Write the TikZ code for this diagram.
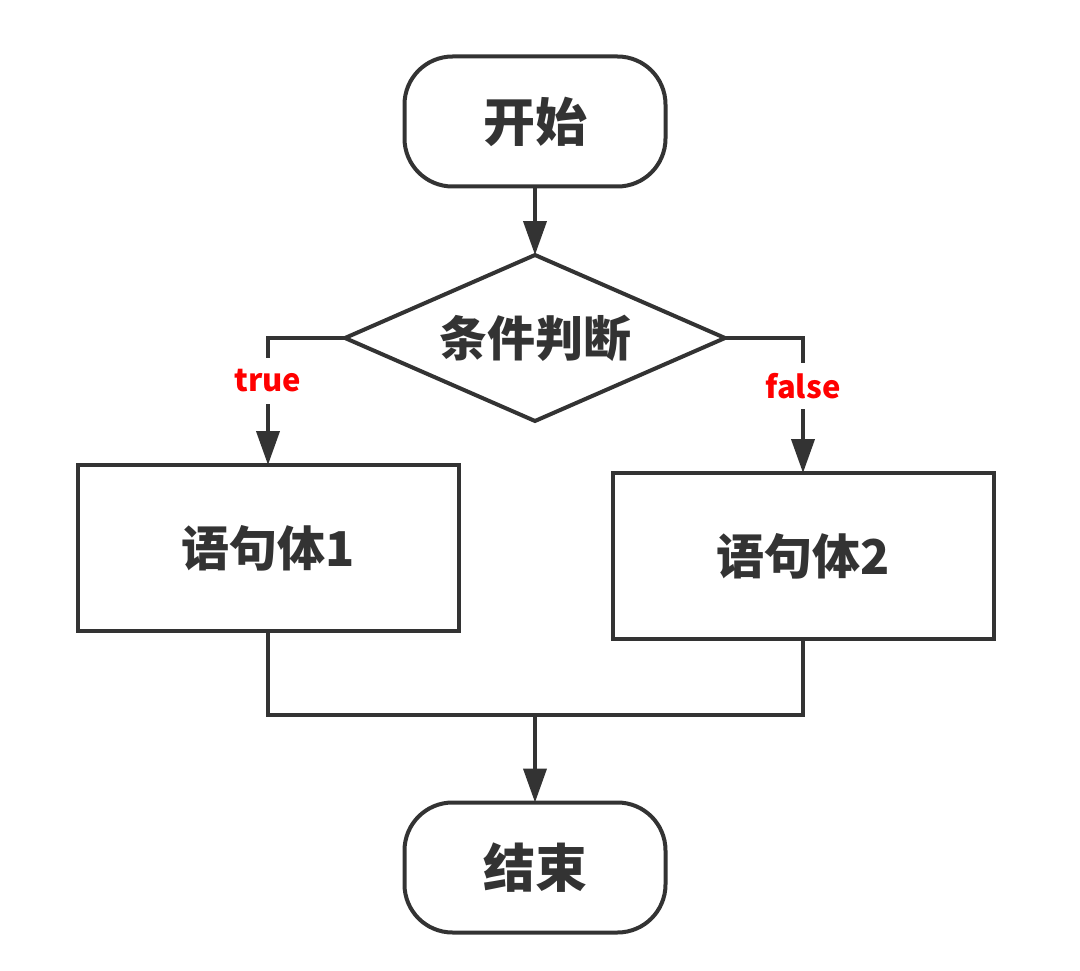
\documentclass[tikz,border=0pt]{standalone}
\usepackage{fontspec}
\usetikzlibrary{shapes.geometric,arrows.meta}
\newfontfamily\cjk{Noto Sans CJK SC}
\definecolor{ink}{HTML}{333333}
\definecolor{lab}{HTML}{FF0000}
\begin{document}
\begin{tikzpicture}[x=1pt,y=-1pt,
  line width=4pt, draw=ink,
  every node/.style={inner sep=0pt, outer sep=0pt, text=ink, font=\cjk\bfseries\fontsize{48}{56}\selectfont},
  term/.style={draw=ink, rounded corners=48pt, minimum width=261pt, minimum height=130pt, font=\cjk\bfseries\fontsize{52}{60}\selectfont},
  proc/.style={draw=ink, rectangle, minimum width=381pt, minimum height=166pt},
  dec/.style={draw=ink, diamond, aspect=2.3, minimum width=380pt, minimum height=166pt},
  lbl/.style={text=lab, minimum height=46pt, font=\cjk\bfseries\fontsize{31}{36}\selectfont},
  arr/.style={-{Triangle[length=34pt,width=23pt]}, draw=ink}
]
\fill[white] (0,0) rectangle (1080,971);
\node[term] (start) at (535,121.5) {开始};
\node[dec] (cond) at (535,338) {条件判断};
\node[proc] (b1) at (268,548) {语句体1};
\node[proc] (b2) at (803,556) {语句体2};
\node[term] (stop) at (535,867.5) {结束};
\node[lbl] (t) at (268,381) {true};
\node[lbl] (f) at (803,386) {false};
\coordinate (j) at (535,715);

\draw[arr] (start) -- (cond);
\draw (cond.west) -- (cond.west -| t) -- (t.north);
\draw[arr] (t.south) -- (b1.north);
\draw (cond.east) -- (cond.east -| f) -- (f.north);
\draw[arr] (f.south) -- (b2.north);
\draw (b1.south) -- (b1.south |- j) -| (b2.south);
\draw[arr] (j) -- (stop.north);
\end{tikzpicture}
\end{document}
